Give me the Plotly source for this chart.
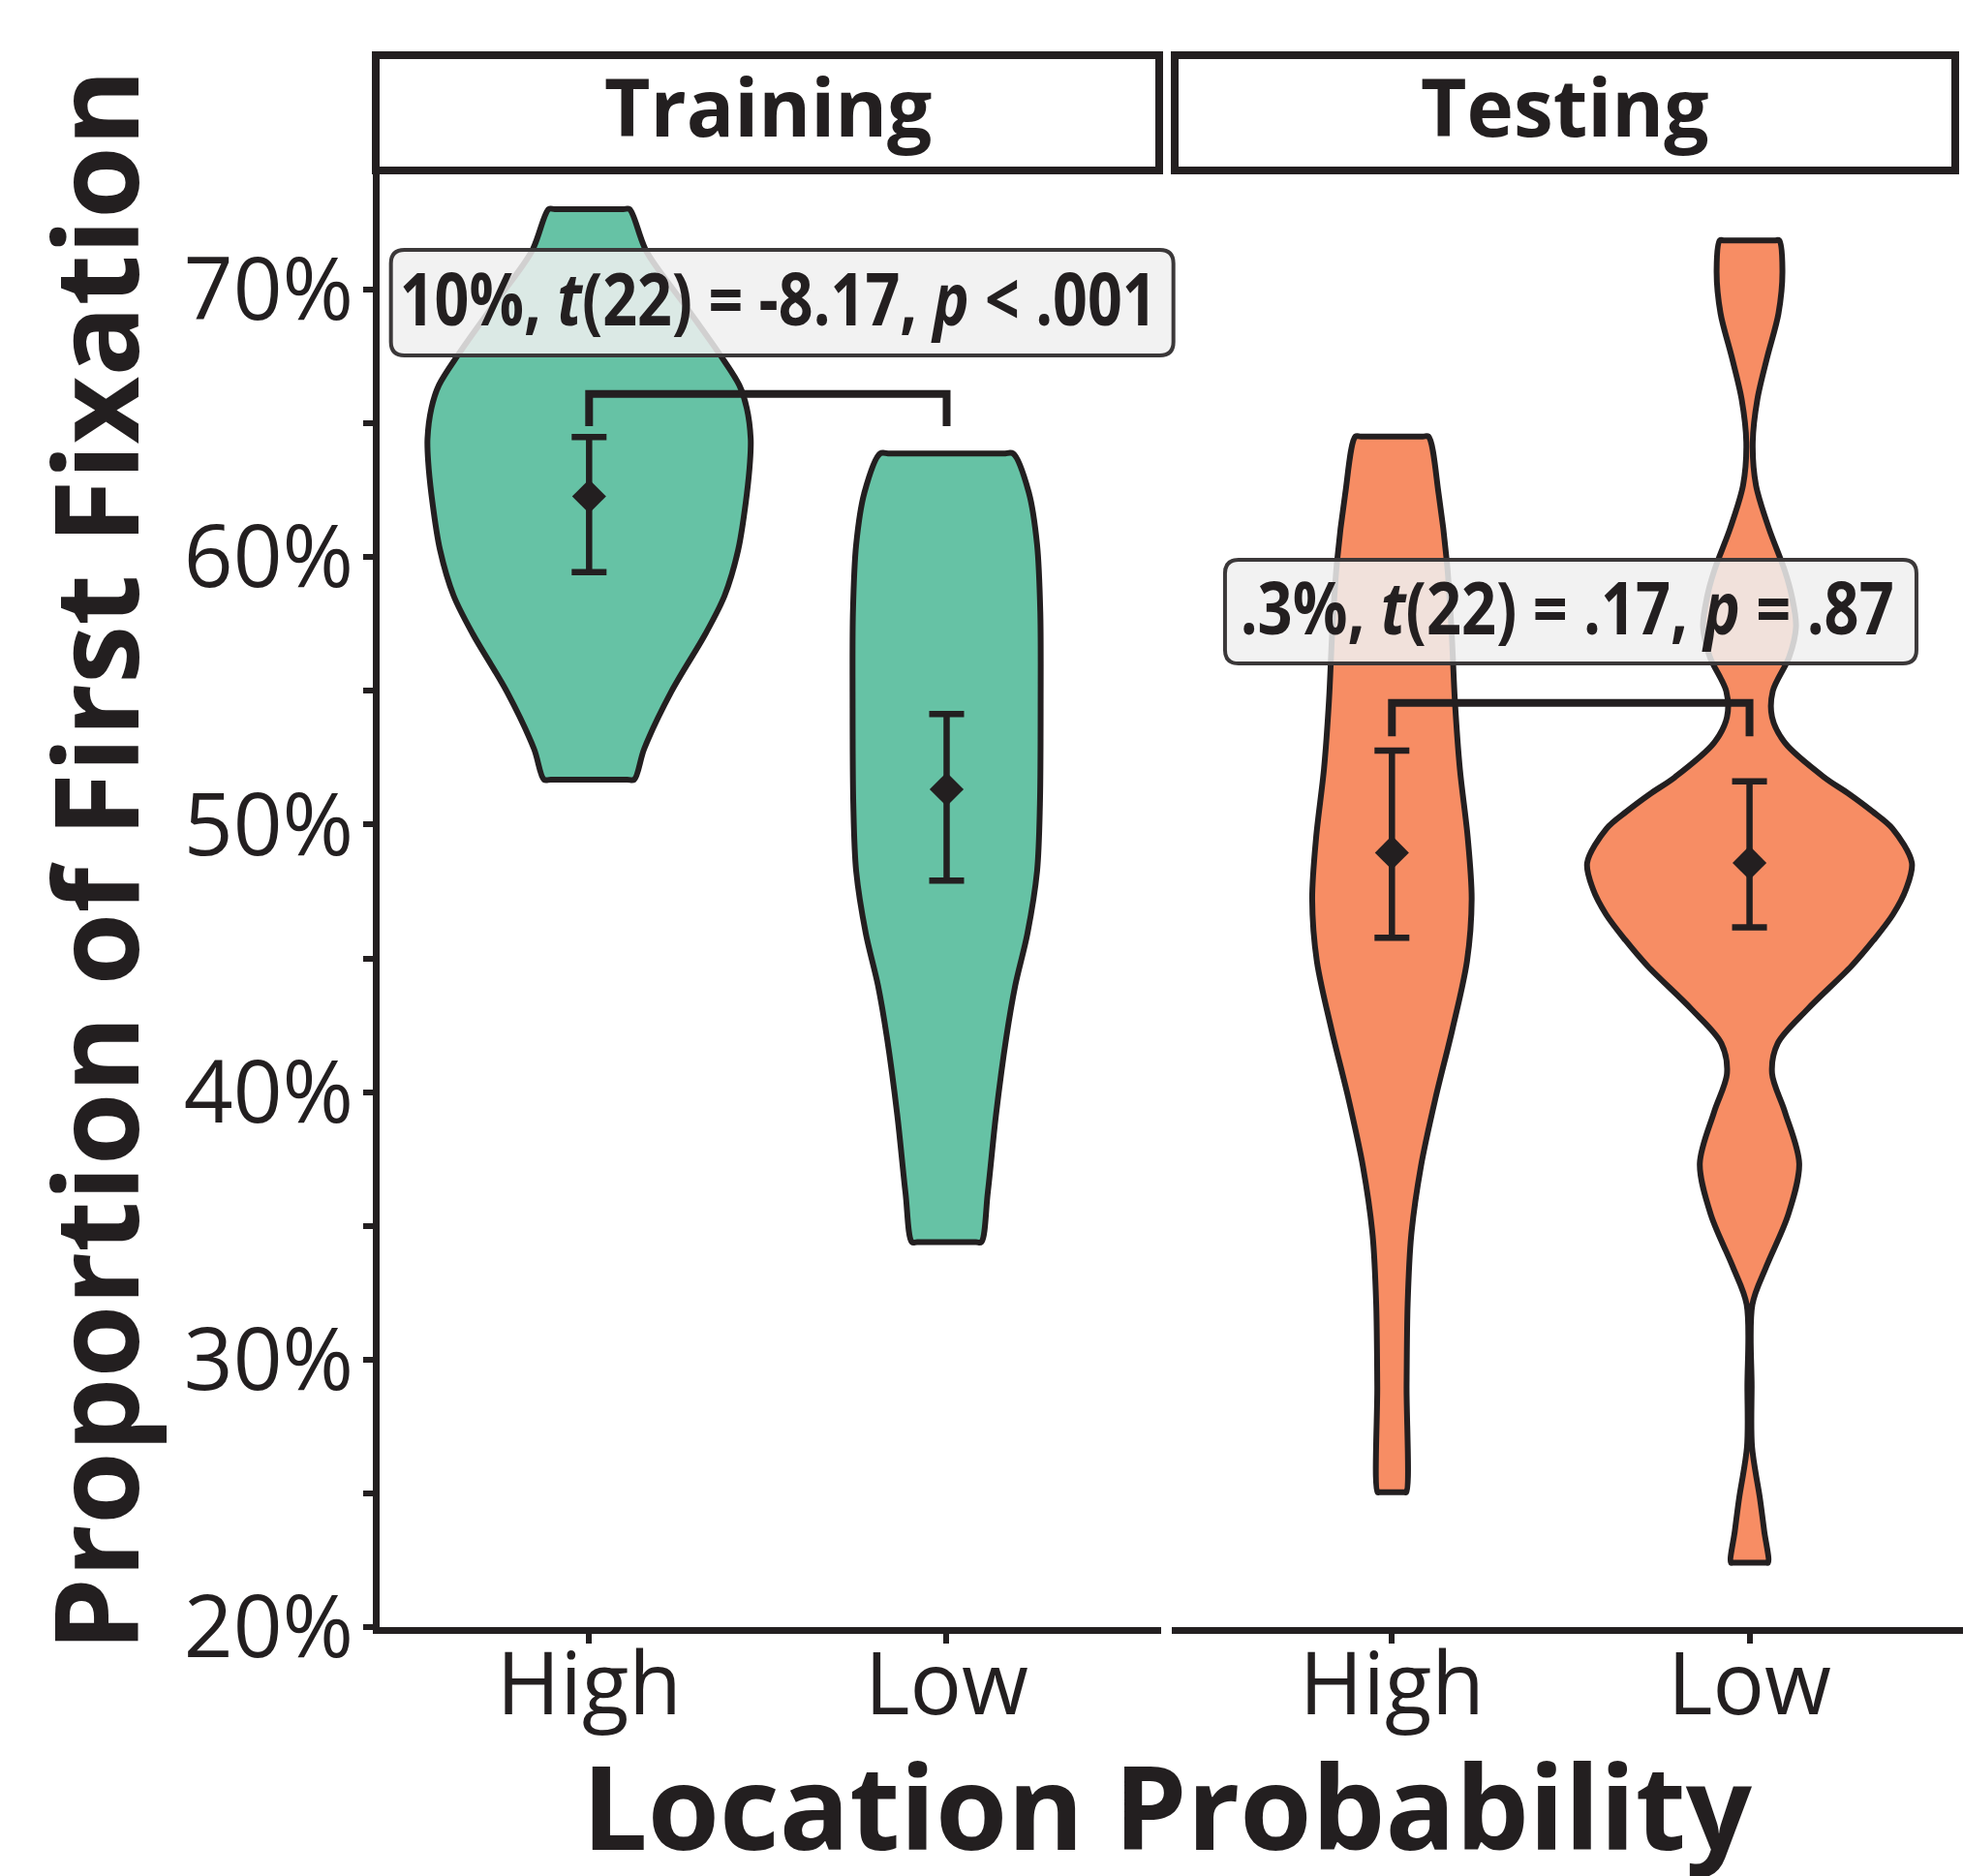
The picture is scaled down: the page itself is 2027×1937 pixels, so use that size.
import plotly.graph_objects as go

# ---------------- data ----------------
panels = ["Training", "Testing"]
categories = ["High", "Low"]

# violin outlines: y levels (%) and half-widths (x category units)
train_high_y = [51.68, 52.83, 54.97, 57.12, 58.56, 60.27, 62.13, 63.56, 64.42, 65.57, 66.43, 67.57, 69.29, 71.44, 73.01]
train_high_w = [0.126, 0.154, 0.230, 0.325, 0.379, 0.417, 0.439, 0.450, 0.452, 0.441, 0.420, 0.366, 0.275, 0.160, 0.113]

train_low_y = [34.39, 36.23, 39.14, 42.05, 43.99, 45.93, 48.26, 50.78, 54.66, 57.95, 60.47, 62.41, 63.87]
train_low_w = [0.097, 0.115, 0.138, 0.167, 0.192, 0.226, 0.253, 0.261, 0.263, 0.262, 0.253, 0.230, 0.186]

test_high_y = [25.04, 29.02, 32.09, 34.65, 37.22, 39.78, 42.34, 44.90, 47.21, 49.52, 52.08, 54.64, 57.20, 59.77, 62.33, 64.51]
test_high_w = [0.040, 0.041, 0.044, 0.054, 0.081, 0.122, 0.169, 0.210, 0.223, 0.212, 0.190, 0.176, 0.167, 0.154, 0.131, 0.102]

test_low_y = [22.41, 23.60, 24.82, 26.74, 28.99, 32.06, 33.48, 35.41, 37.33, 39.26, 40.70, 41.83, 43.11, 44.71,
              45.68, 46.64, 47.60, 48.57, 49.85, 50.49, 51.14, 51.78, 53.06, 54.02, 54.99, 56.27, 57.40, 58.50,
              59.48, 61.08, 62.69, 64.29, 65.90, 67.50, 69.11, 70.71, 71.84]
test_low_w = [0.052, 0.041, 0.029, 0.007, 0.006, 0.008, 0.047, 0.108, 0.139, 0.099, 0.063, 0.079, 0.163, 0.285,
              0.347, 0.401, 0.438, 0.454, 0.400, 0.344, 0.279, 0.208, 0.099, 0.063, 0.065, 0.111, 0.130, 0.119,
              0.099, 0.054, 0.018, 0.009, 0.022, 0.050, 0.081, 0.092, 0.083]

# means and error-bar limits (%)
means = {"Training": [62.27, 51.32], "Testing": [48.95, 48.57]}
err_hi = {"Training": [64.49, 54.13], "Testing": [52.77, 51.62]}
err_lo = {"Training": [59.44, 47.91], "Testing": [45.77, 46.16]}

# significance brackets (top, leg bottom) and labels
bracket_top = {"Training": 66.10, "Testing": 54.55}
bracket_leg = {"Training": 64.90, "Testing": 53.30}
stat_labels = {"Training": "10%, <i>t</i>(22) = -8.17, <i>p</i> &lt; .001",
               "Testing": ".3%, <i>t</i>(22) = .17, <i>p</i> = .87"}
stat_pos = {"Training": (1.54, 69.51), "Testing": (1.50, 57.96)}
stat_box = {"Training": (808, 109), "Testing": (714, 107)}
stat_textlen = {"Training": 782, "Testing": 675}

y_ticks = [20, 25, 30, 35, 40, 45, 50, 55, 60, 65, 70]
y_ticktext = ["20%", "", "30%", "", "40%", "", "50%", "", "60%", "", "70%"]

# ---------------- style / geometry ----------------
INK = "#231F20"
GREEN = "#66C2A5"
ORANGE = "#F78D64"
W, H = 2027, 1937

x1_dom = [392 / W, 1199 / W]
x1_rng = [0.4141, 2.60]
x2_dom = [1210 / W, 1.0]
x2_rng = [0.3844, 2.597]
y_dom = [(H - 1680) / H, (H - 180) / H]
y_rng = [20, 74.31]

fig = go.Figure()

violins = {
    "Training": [(train_high_y, train_high_w), (train_low_y, train_low_w)],
    "Testing": [(test_high_y, test_high_w), (test_low_y, test_low_w)],
}
fills = {"Training": GREEN, "Testing": ORANGE}
axes = {"Training": ("x", "y"), "Testing": ("x2", "y2")}
axgeo = {"Training": (x1_dom, x1_rng), "Testing": (x2_dom, x2_rng)}

for panel in panels:
    xa, ya = axes[panel]
    for i, (ys, ws) in enumerate(violins[panel]):
        c = i + 1
        # right side upward, flat top, left side downward, flat bottom
        # (helper points close to the corners keep the trimmed ends flat and sharp)
        xs = ([c + 0.85 * ws[0]] + [c + w for w in ws] + [c + 0.85 * ws[-1], c - 0.85 * ws[-1]]
              + [c - w for w in reversed(ws)] + [c - 0.85 * ws[0], c + 0.85 * ws[0]])
        yy = ([ys[0]] + list(ys) + [ys[-1], ys[-1]] + list(reversed(ys)) + [ys[0], ys[0]])
        fig.add_trace(go.Scatter(
            x=xs, y=yy, xaxis=xa, yaxis=ya, mode="lines", fill="toself",
            fillcolor=fills[panel], line=dict(color=INK, width=6, shape="spline", smoothing=0.9),
            hoverinfo="skip", showlegend=False))
    # bracket
    fig.add_trace(go.Scatter(
        x=[1, 1, 2, 2], y=[bracket_leg[panel], bracket_top[panel], bracket_top[panel], bracket_leg[panel]],
        xaxis=xa, yaxis=ya, mode="lines", line=dict(color=INK, width=8),
        hoverinfo="skip", showlegend=False))
    # means with error bars
    m = means[panel]
    fig.add_trace(go.Scatter(
        x=[1, 2], y=m, xaxis=xa, yaxis=ya, mode="markers",
        marker=dict(symbol="diamond", size=27, color=INK),
        error_y=dict(type="data", symmetric=False,
                     array=[h - v for h, v in zip(err_hi[panel], m)],
                     arrayminus=[v - l for l, v in zip(err_lo[panel], m)],
                     color=INK, thickness=6.5, width=18),
        hoverinfo="skip", showlegend=False))


def to_paper(v, dom, rng):
    return dom[0] + (v - rng[0]) / (rng[1] - rng[0]) * (dom[1] - dom[0])


# stat label boxes (rounded, not clipped to the panel) + text
shapes = []
annotations = []
for panel in panels:
    xa, ya = axes[panel]
    bx, by = stat_pos[panel]
    bw, bh = stat_box[panel]
    xdom, xrng = axgeo[panel]
    r = 14
    hw_, hh_ = bw / 2, bh / 2
    path = (f"M {-hw_ + r},{-hh_} L {hw_ - r},{-hh_} Q {hw_},{-hh_} {hw_},{-hh_ + r} "
            f"L {hw_},{hh_ - r} Q {hw_},{hh_} {hw_ - r},{hh_} L {-hw_ + r},{hh_} "
            f"Q {-hw_},{hh_} {-hw_},{hh_ - r} L {-hw_},{-hh_ + r} Q {-hw_},{-hh_} {-hw_ + r},{-hh_} Z")
    shapes.append(dict(type="path", xref="paper", yref="paper", xsizemode="pixel", ysizemode="pixel",
                       xanchor=to_paper(bx, xdom, xrng), yanchor=to_paper(by, y_dom, y_rng), path=path,
                       fillcolor="rgba(240,240,240,0.85)", line=dict(color="#3b3839", width=4),
                       layer="above"))
    annotations.append(dict(xref=xa, yref=ya, x=bx, y=by, text=stat_labels[panel], showarrow=False,
                            xanchor="center", yanchor="middle", yshift=6, xshift=-4,
                            font=dict(family="Open Sans", size=76, color=INK, weight="bold")))

# facet strips
strips = {"Training": (388, 1197), "Testing": (1213, 2019)}
for panel in panels:
    x0, x1 = strips[panel]
    shapes.append(dict(type="rect", xref="paper", yref="paper",
                       x0=x0 / W, x1=x1 / W, y0=1 - 176 / H, y1=1 - 57 / H,
                       line=dict(color=INK, width=8), fillcolor="white", layer="above"))
    annotations.append(dict(xref="paper", yref="paper", x=(x0 + x1) / 2 / W, y=1 - 109 / H,
                            text=panel, showarrow=False, xanchor="center", yanchor="middle",
                            font=dict(family="Open Sans", size=82, color=INK, weight="bold")))

# axis titles
annotations.append(dict(xref="paper", yref="paper", x=96 / W, y=1 - 889 / H, textangle=-90,
                        text="Proportion of First Fixation", showarrow=False,
                        xanchor="center", yanchor="middle",
                        font=dict(family="Open Sans", size=121, color=INK, weight="bold")))
annotations.append(dict(xref="paper", yref="paper", x=1205 / W, y=1 - 1863 / H,
                        text="Location Probability", showarrow=False,
                        xanchor="center", yanchor="middle",
                        font=dict(family="Open Sans", size=120, color=INK, weight="bold")))

tickfont = dict(family="Open Sans", size=89, color=INK, weight=500)
common_x = dict(tickvals=[1, 2], ticktext=categories, showline=True, linewidth=7, linecolor=INK,
                ticks="outside", ticklen=10, tickwidth=6, tickcolor=INK, tickfont=tickfont,
                ticklabelstandoff=-34,
                showgrid=False, zeroline=False, fixedrange=True, automargin=False)

fig.update_layout(
    template="none",
    width=W, height=H, margin=dict(l=0, r=0, t=0, b=0, autoexpand=False),
    paper_bgcolor="white", plot_bgcolor="white",
    xaxis=dict(domain=x1_dom, range=x1_rng, anchor="y", **common_x),
    xaxis2=dict(domain=x2_dom, range=x2_rng, anchor="y2", **common_x),
    yaxis=dict(domain=y_dom, range=y_rng, tickvals=y_ticks, ticktext=y_ticktext,
               showline=True, linewidth=7, linecolor=INK, ticks="outside", ticklen=10, tickwidth=6,
               tickcolor=INK, tickfont=tickfont, ticklabelstandoff=-8,
               showgrid=False, zeroline=False, anchor="x", automargin=False),
    yaxis2=dict(domain=y_dom, range=y_rng, matches="y", showticklabels=False, showline=False,
                ticks="", showgrid=False, zeroline=False, anchor="x2", automargin=False),
    shapes=shapes, annotations=annotations,
)

# page without body margin; condense the statistic labels to their reference width
post = """
document.body.style.margin = '0';
document.body.style.overflow = 'hidden';
var gd = document.getElementById('{plot_id}');
function squeeze() {
  var targets = [['10%', %TL1%], ['.3%', %TL2%]];
  gd.querySelectorAll('g.annotation text.annotation-text').forEach(function (t) {
    var s = t.textContent || '';
    targets.forEach(function (k) {
      if (s.indexOf(k[0]) === 0 && s.indexOf('(22)') > 0) {
        t.setAttribute('textLength', k[1]);
        t.setAttribute('lengthAdjust', 'spacingAndGlyphs');
      }
    });
  });
}
squeeze();
gd.on('plotly_afterplot', squeeze);
""".replace("%TL1%", str(stat_textlen["Training"])).replace("%TL2%", str(stat_textlen["Testing"]))

fig.write_html("out.html", post_script=post, config={"displayModeBar": False})
